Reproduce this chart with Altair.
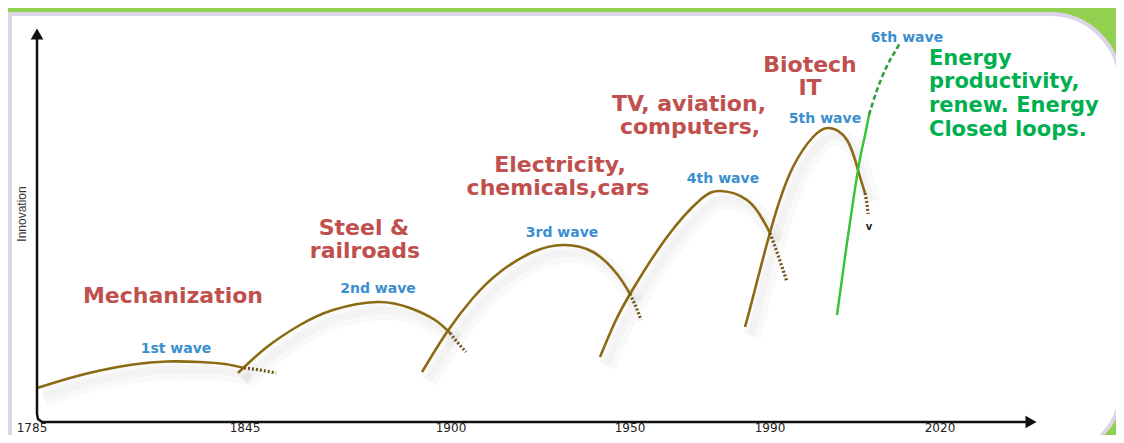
import altair as alt
import pandas as pd

# ---------------- data (reference pixel coordinates) ----------------
# brown innovation waves: solid part
w1_x = [37, 70, 100, 133, 167, 200, 225, 244]
w1_y = [388, 378, 370.5, 364.5, 361.5, 362, 364, 368]
w2_x = [238, 267, 300, 333, 377, 410, 435, 450]
w2_y = [373, 347, 325, 310, 302, 308, 320, 333]
w3_x = [422, 447, 473, 500, 533, 563, 593, 617, 630]
w3_y = [372, 332, 298, 272, 252, 245, 252, 274, 294]
w4_x = [600, 615, 633, 667, 700, 721, 747, 763, 770]
w4_y = [357, 322, 289, 237, 200, 191, 200, 220, 233]
w5_x = [745, 753, 773, 793, 813, 829, 847, 858, 865]
w5_y = [327, 297, 222, 167, 137, 128, 140, 170, 193]
# dotted tails of the brown waves
t1_x = [244, 260, 276]
t1_y = [368, 370, 373]
t2_x = [450, 458, 466]
t2_y = [333, 343, 352]
t3_x = [630, 636, 641]
t3_y = [294, 307, 320]
t4_x = [770, 779, 787]
t4_y = [233, 258, 282]
t5_x = [865, 867, 868]
t5_y = [193, 204, 214]
# green 6th wave: solid and dashed part
g_x = [837, 846, 858, 864, 869]
g_y = [315, 250, 170, 140, 115]
gd_x = [869, 877, 886, 893, 900]
gd_y = [115, 90, 68, 55, 43]

# wave labels (blue)
wave_labels = ["1st wave", "2nd wave", "3rd wave", "4th wave", "5th wave", "6th wave"]
wave_lab_x = [176, 378, 562, 723, 825, 907]
wave_lab_y = [353, 293, 237, 183, 123, 42]

# technology labels (red)
tech_labels = ["Mechanization", "Steel &", "railroads", "Electricity,", "chemicals,cars",
               "TV, aviation,", "computers,", "Biotech", "IT"]
tech_x = [173, 364, 365, 560, 558, 689, 690, 810, 810]
tech_y = [303, 235, 258, 172, 195, 111, 134, 72, 95]

# 6th wave description (green)
green_labels = ["Energy", "productivity,", "renew. Energy", "Closed loops."]
green_x = [929, 929, 929, 929]
green_y = [65, 88, 112, 136]

# x tick labels
years = ["1785", "1845", "1900", "1950", "1990", "2020"]
year_x = [32, 245, 451, 630, 770, 940]
year_y = [423, 423, 423, 423, 423, 423]

# axis frame
axis_x = [37, 37, 38, 42, 1026]
axis_y = [38, 414, 419, 422, 422]

# ---------------- chart ----------------
XS = alt.Scale(domain=[8, 1116], nice=False, zero=False)
YS = alt.Scale(domain=[8, 435], nice=False, zero=False, reverse=True)


def segs(pairs):
    frames = []
    for name, xs, ys in pairs:
        frames.append(pd.DataFrame({"x": xs, "y": ys, "seg": name, "o": list(range(len(xs)))}))
    return pd.concat(frames, ignore_index=True)


solid_df = segs([("w1", w1_x, w1_y), ("w2", w2_x, w2_y), ("w3", w3_x, w3_y),
                 ("w4", w4_x, w4_y), ("w5", w5_x, w5_y)])
tail_df = segs([("t1", t1_x, t1_y), ("t2", t2_x, t2_y), ("t3", t3_x, t3_y),
                ("t4", t4_x, t4_y), ("t5", t5_x, t5_y)])
green_df = segs([("g", g_x, g_y)])
greend_df = segs([("gd", gd_x, gd_y)])
axis_df = segs([("ax", axis_x, axis_y)])

X = alt.X("x:Q", scale=XS, axis=None)
Y = alt.Y("y:Q", scale=YS, axis=None)
LINE_ENC = dict(x=X, y=Y, detail="seg:N", order="o:Q")

panel = alt.Chart(pd.DataFrame({"x": [10], "x2": [1120], "y": [14], "y2": [452]})).mark_rect(
    fill="white", stroke="#DCD5EA", strokeWidth=4,
    cornerRadiusTopRight=70, cornerRadiusBottomRight=60, clip=True
).encode(x=X, x2="x2:Q", y=Y, y2="y2:Q")

shadow1 = alt.Chart(solid_df).mark_line(
    color="#000000", opacity=0.022, strokeWidth=18, xOffset=7, yOffset=9, interpolate="natural"
).encode(**LINE_ENC)
shadow2 = alt.Chart(solid_df).mark_line(
    color="#000000", opacity=0.025, strokeWidth=8, xOffset=6, yOffset=8, interpolate="natural"
).encode(**LINE_ENC)

brown = alt.Chart(solid_df).mark_line(
    color="#8B6A14", strokeWidth=2.6, interpolate="natural"
).encode(**LINE_ENC)

tails = alt.Chart(tail_df).mark_line(
    color="#6E5518", strokeWidth=3.2, strokeDash=[2, 2], interpolate="natural"
).encode(**LINE_ENC)

green = alt.Chart(green_df).mark_line(
    color="#35C435", strokeWidth=2.4, interpolate="natural"
).encode(**LINE_ENC)

greend = alt.Chart(greend_df).mark_line(
    color="#2E9E3A", strokeWidth=2.6, strokeDash=[5, 3], interpolate="natural"
).encode(**LINE_ENC)

axis_line = alt.Chart(axis_df).mark_line(
    color="#111111", strokeWidth=2.5
).encode(x=X, y=Y, order="o:Q")

arrows = alt.Chart(pd.DataFrame({"x": [37, 1031], "y": [34, 422], "s": ["triangle-up", "triangle-right"]})).mark_point(
    filled=True, color="#111111", size=160, opacity=1
).encode(x=X, y=Y, shape=alt.Shape("s:N", scale=None))

wave_txt = alt.Chart(pd.DataFrame({"t": wave_labels, "x": wave_lab_x, "y": wave_lab_y})).mark_text(
    font="DejaVu Sans", fontWeight="bold", fontSize=14, color="#3A8FD0", align="center", baseline="alphabetic"
).encode(x=X, y=Y, text="t:N")

tech_txt = alt.Chart(pd.DataFrame({"t": tech_labels, "x": tech_x, "y": tech_y})).mark_text(
    font="DejaVu Sans", fontWeight="bold", fontSize=22, color="#C0504D", align="center", baseline="alphabetic"
).encode(x=X, y=Y, text="t:N")

green_txt = alt.Chart(pd.DataFrame({"t": green_labels, "x": green_x, "y": green_y})).mark_text(
    font="DejaVu Sans", fontWeight="bold", fontSize=21, color="#00B050", align="left", baseline="alphabetic"
).encode(x=X, y=Y, text="t:N")

year_txt = alt.Chart(pd.DataFrame({"t": years, "x": year_x, "y": year_y})).mark_text(
    font="DejaVu Sans", fontSize=12, color="#222222", align="center", baseline="top"
).encode(x=X, y=Y, text="t:N")

ylab = alt.Chart(pd.DataFrame({"t": ["Innovation"], "x": [22], "y": [214]})).mark_text(
    font="Liberation Sans", fontSize=12, color="#333333", angle=270, align="center", baseline="middle"
).encode(x=X, y=Y, text="t:N")

vmark = alt.Chart(pd.DataFrame({"t": ["v"], "x": [869], "y": [227]})).mark_text(
    font="DejaVu Sans", fontWeight="bold", fontSize=10, color="#222222", align="center", baseline="middle"
).encode(x=X, y=Y, text="t:N")

chart = alt.layer(
    panel, shadow1, shadow2, brown, tails, green, greend, axis_line, arrows,
    wave_txt, tech_txt, green_txt, year_txt, ylab, vmark
).properties(
    width=1108, height=427,
    autosize=alt.AutoSizeParams(type="fit", contains="padding"),
    padding=0,
    background="#92D050",
).configure_view(stroke=None)

chart.save("out.html", embed_options={"renderer": "svg", "actions": False})
